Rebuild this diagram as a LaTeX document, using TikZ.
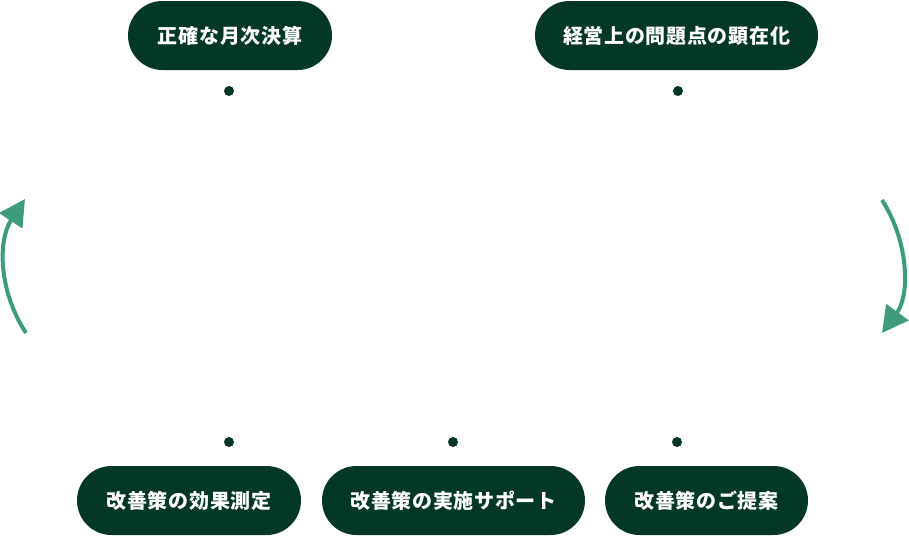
\documentclass[tikz,border=0pt]{standalone}
\usepackage{fontspec}
\newfontfamily\jp{Noto Sans CJK JP}[LetterSpace=3.5]
\usetikzlibrary{arrows.meta}
\definecolor{pillgreen}{HTML}{033828}
\definecolor{arrowgreen}{HTML}{3E9B7B}
\tikzset{
  pill/.style={rectangle, rounded corners=34.5pt, fill=pillgreen, minimum height=69pt,
    inner sep=0pt, text=white, font=\jp\bfseries\fontsize{20pt}{24pt}\selectfont},
  dotmark/.style={circle, fill=pillgreen, minimum size=10pt, inner sep=0pt},
  cyclearrow/.style={draw=arrowgreen, line width=4pt,
    -{Triangle[length=26pt,width=27pt,fill=arrowgreen]}}
}
\begin{document}
\begin{tikzpicture}[x=1pt,y=-1pt]
\useasboundingbox (0,0) rectangle (909,536);
% pills
\node[pill, minimum width=204pt] (p1) at (230,35.5) {正確な月次決算};
\node[pill, minimum width=283pt] (p2) at (676.5,35.5) {経営上の問題点の顕在化};
\node[pill, minimum width=224pt] (p5) at (189,500.5) {改善策の効果測定};
\node[pill, minimum width=263pt] (p4) at (453.5,500.5) {改善策の実施サポート};
\node[pill, minimum width=203pt] (p3) at (706.5,500.5) {改善策のご提案};
% dots
\node[dotmark] (d1) at (229,91) {};
\node[dotmark] (d2) at (678,91) {};
\node[dotmark] (d5) at (229,442) {};
\node[dotmark] (d4) at (453,442) {};
\node[dotmark] (d3) at (677,442) {};
% cycle arrows
\coordinate (la) at (26,333);
\coordinate (lb) at (25,199);
\coordinate (ra) at (882,200);
\coordinate (rb) at (882,333);
\draw[cyclearrow] (la) .. controls (-2,290) and (-2,240) .. (lb);
\draw[cyclearrow] (ra) .. controls (909,242) and (910,295) .. (rb);
\end{tikzpicture}
\end{document}
